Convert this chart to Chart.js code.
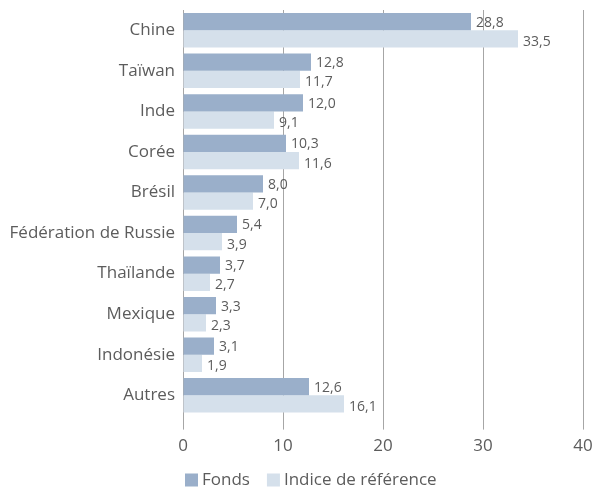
<!DOCTYPE html>
<html><head><meta charset="utf-8">
<script src="https://cdn.jsdelivr.net/npm/chart.js@4/dist/chart.umd.min.js"></script>
<style>html,body{margin:0;padding:0;background:#fff}#w{width:596px;height:492px}</style>
</head><body><div id="w"><canvas id="c"></canvas></div>
<script>
const categories = ["Chine","Taïwan","Inde","Corée","Brésil","Fédération de Russie","Thaïlande","Mexique","Indonésie","Autres"];
const fonds = [28.8,12.8,12.0,10.3,8.0,5.4,3.7,3.3,3.1,12.6];
const indice = [33.5,11.7,9.1,11.6,7.0,3.9,2.7,2.3,1.9,16.1];
const seriesNames = ["Fonds","Indice de référence"];
const seriesColors = ["#9aafca","#d5e0eb"];
const xTicks = [0,10,20,30,40];

const FONT = "'Open Sans', Lato, sans-serif";
const TXT = "#5c5c5c";

const labelPlugin = {
  id: 'vals',
  afterDatasetsDraw(chart) {
    const ctx = chart.ctx;
    ctx.save();
    ctx.font = "14px " + FONT;
    ctx.fillStyle = TXT;
    ctx.textAlign = "left";
    ctx.textBaseline = "middle";
    chart.data.datasets.forEach((ds, i) => {
      const dy = i === 0 ? 1 : 3;
      chart.getDatasetMeta(i).data.forEach((bar, j) => {
        ctx.fillText(ds.data[j].toFixed(1).replace('.', ','), bar.x + 5, bar.y + dy);
      });
    });
    ctx.restore();
  }
};

const legendPlugin = {
  id: 'customLegend',
  afterDraw(chart) {
    const ctx = chart.ctx;
    ctx.save();
    ctx.font = "17px " + FONT;
    ctx.textBaseline = "middle";
    ctx.textAlign = "left";
    const y = 480, box = 13;
    let x = chart.chartArea.left + 2;
    chart.data.datasets.forEach((ds, i) => {
      ctx.fillStyle = ds.backgroundColor;
      ctx.fillRect(x, y - box / 2, box, box);
      x += box + 4;
      ctx.fillStyle = TXT;
      ctx.fillText(ds.label, x, y);
      x += ctx.measureText(ds.label).width + 17;
    });
    ctx.restore();
  }
};

new Chart(document.getElementById('c'), {
  type: 'bar',
  data: {
    labels: categories,
    datasets: [
      {label: seriesNames[0], data: fonds, backgroundColor: seriesColors[0], categoryPercentage: 0.85, barPercentage: 1.0},
      {label: seriesNames[1], data: indice, backgroundColor: seriesColors[1], categoryPercentage: 0.85, barPercentage: 1.0}
    ]
  },
  options: {
    indexAxis: 'y',
    responsive: true,
    maintainAspectRatio: false,
    animation: false,
    layout: {padding: {top: 10, right: 13, left: 0, bottom: 30}},
    scales: {
      x: {
        min: 0, max: 40,
        afterBuildTicks: s => { s.ticks = xTicks.map(v => ({value: v})); },
        afterFit: s => { s.paddingLeft = 0; s.paddingRight = 0; },
        grid: {color: '#a6a6a6', lineWidth: 1, drawTicks: true, tickLength: 14},
        border: {display: false},
        ticks: {color: TXT, font: {family: FONT, size: 17}, padding: 6}
      },
      y: {
        grid: {display: false, drawTicks: false},
        border: {display: false},
        ticks: {color: TXT, font: {family: FONT, size: 17}, padding: 8},
        afterFit: s => { s.width = 183; s.paddingTop = 0; s.paddingBottom = 0; }
      }
    },
    plugins: {
      legend: {display: false},
      tooltip: {enabled: false}
    }
  },
  plugins: [labelPlugin, legendPlugin]
});
</script></body></html>
